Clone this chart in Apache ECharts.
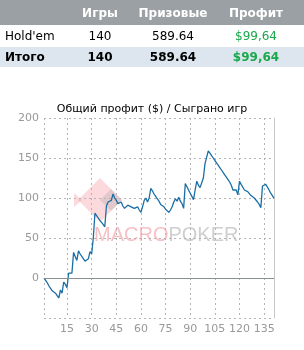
<!DOCTYPE html>
<html><head><meta charset="utf-8">
<script src="https://cdn.jsdelivr.net/npm/echarts@6/dist/echarts.min.js"></script>
<style>
html,body{margin:0;padding:0;background:#fff;width:304px;height:350px;overflow:hidden;font-family:"DejaVu Sans",Arial,sans-serif;}
#chart{position:absolute;left:0;top:0;width:304px;height:350px;}
table{position:absolute;left:0;top:0;width:304px;border-collapse:collapse;z-index:2;font-size:12px;}
th{background:#9aa0a3;color:#fff;font-weight:bold;height:25px;padding:0;font-size:12px;}
td{height:22px;padding:0;text-align:center;color:#000;}
tr.r2 td{background:#dde6ee;font-weight:bold;height:20px;}
td.n{text-align:left;padding-left:5px;}
td.g{color:#1aa84a;}
</style>
</head><body>
<div id="chart"></div>
<table>
<tr><th style="width:62px"></th><th style="width:76px">Игры</th><th style="width:70px">Призовые</th><th>Профит</th></tr>
<tr><td class="n">Hold'em</td><td>140</td><td>589.64</td><td class="g">$99,64</td></tr>
<tr class="r2"><td class="n">Итого</td><td>140</td><td>589.64</td><td class="g">$99,64</td></tr>
</table>
<script>
const titleText = "Общий профит ($) / Сыграно игр";
const games = [];
for (let i = 1; i <= 141; i++) games.push(i);
const profit = [
 0,-3,-6,-10,-13,-16,-16,-19,-22,-25,
 -15,-19,-5,-8,-12,6,8,6,32,27,
 22,34,30,27,24,21,20,24,33,30,
 50,81,78,75,72,70,67,64,90,95,
 94,97,105,100,97,93,91,95,90,87,
 85,91,93,89,91,87,85,89,85,82,
 89,97,100,95,100,112,109,105,102,99,
 96,92,90,89,86,84,82,85,89,95,
 99,96,101,96,93,87,118,114,110,106,
 102,98,110,121,116,113,112,125,143,141,
 159,156,153,150,147,144,141,138,135,132,
 129,126,123,120,116,110,108,110,104,121,
 117,115,110,111,108,109,103,101,100,99,
 95,92,88,115,113,117,115,110,106,103,
 99.64
];
const yTicks = [-50, 0, 50, 100, 150, 200];

const chart = echarts.init(document.getElementById('chart'), null, {renderer:'canvas'});
const gridLine = {color:'#b4b4b4', type:[2,3], width:1};
chart.setOption({
  animation:false,
  title:{text:titleText,left:147,textAlign:'center',top:99,
    textStyle:{fontSize:11,fontWeight:'normal',color:'#000',fontFamily:'DejaVu Sans'}},
  grid:{left:44,right:30,top:118,bottom:32},
  graphic:[
    {type:'polygon',z:-1,shape:{points:[[100,178],[122,200],[100,222],[78,200]]},style:{fill:'rgba(240,120,130,0.28)'}},
    {type:'polygon',z:-1,shape:{points:[[111,189],[122,200],[111,211],[100,200]]},style:{fill:'rgba(150,150,150,0.25)'}},
    {type:'polygon',z:-1,shape:{points:[[74,193],[82,200],[74,207]]},style:{fill:'rgba(240,120,130,0.28)'}},
    {type:'text',z:-1,left:94,top:225,style:{text:'{a|MACRO}{b|POKER}',
      rich:{a:{fontSize:20,fontFamily:'Liberation Sans',fill:'rgba(240,130,140,0.5)',color:'rgba(240,130,140,0.5)'},
            b:{fontSize:20,fontFamily:'Liberation Sans',fill:'rgba(160,160,160,0.5)',color:'rgba(160,160,160,0.5)'}}}}
  ],
  xAxis:{type:'category',data:games,boundaryGap:false,
    axisLine:{show:false},axisTick:{show:false},
    axisLabel:{color:'#999',fontSize:11,margin:6,fontFamily:'DejaVu Sans',
      interval:(i,v)=>Number(v)%15===0},
    splitLine:{show:true,interval:(i,v)=>Number(v)%15===0||i===0,lineStyle:gridLine}},
  yAxis:[{type:'value',min:-50,max:200,interval:50,
    axisLine:{show:false},axisTick:{show:false},
    axisLabel:{color:'#999',fontSize:11,margin:5,fontFamily:'DejaVu Sans',
      formatter:v=>(v===-50?'':String(v))},
    splitLine:{show:true,lineStyle:gridLine}},
    {type:'value',position:'right',min:-50,max:200,interval:50,
    axisLine:{show:true,lineStyle:{color:'#c8c8c8'}},axisTick:{show:false},axisLabel:{show:false},splitLine:{show:false}}],
  series:[{type:'line',data:profit,showSymbol:false,symbol:'none',
    lineStyle:{color:'#1b6fa4',width:1.3},
    markLine:{silent:true,symbol:'none',label:{show:false},
      lineStyle:{color:'#8a8f92',type:'solid',width:1},data:[{yAxis:0}]}}]
});
</script>
</body></html>
